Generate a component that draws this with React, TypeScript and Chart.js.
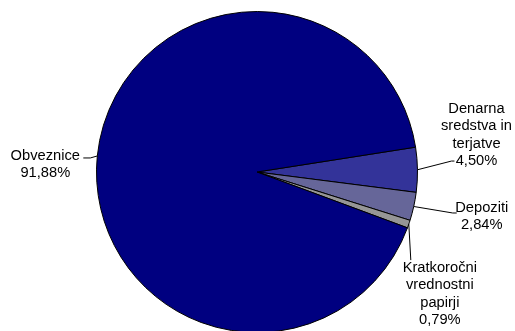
import React, { useEffect, useRef } from "react";
import { Chart, registerables } from "chart.js";

Chart.register(...registerables);

const categories = [
  "Denarna sredstva in terjatve",
  "Depoziti",
  "Kratkoročni vrednostni papirji",
  "Obveznice",
];
const values = [4.5, 2.84, 0.79, 91.88];
const valueLabels = ["4,50%", "2,84%", "0,79%", "91,88%"];
const labelLines = [
  ["Denarna", "sredstva in", "terjatve"],
  ["Depoziti"],
  ["Kratkoročni", "vrednostni", "papirji"],
  ["Obveznice"],
];
const colors = ["#333399", "#666699", "#969696", "#000080"];

// leader geometry: elbow offset from arc edge, tail length, text offset from tail end (first line)
const leaderCfg = [
  { ex: 34, ey: -8.7, tail: 3, tx: 22, ty: -52 },
  { ex: 39, ey: 6.5, tail: 4, tx: 25, ty: -5 },
  { ex: 2, ey: 36, tail: 0, tx: 29, ty: 8 },
  { ex: -7, ey: 2, tail: -7, tx: -38, ty: -2 },
];

const FONT = '14.7px "Liberation Sans", Arial, sans-serif';
const LINE_H = 17.3;

const labelPlugin = {
  id: "leaderLabels",
  afterDatasetsDraw(chart: any) {
    const ctx = chart.ctx;
    const meta = chart.getDatasetMeta(0);
    ctx.save();
    ctx.font = FONT;
    ctx.fillStyle = "#000";
    ctx.strokeStyle = "#000";
    ctx.lineWidth = 1;
    ctx.textAlign = "center";
    ctx.textBaseline = "middle";
    meta.data.forEach((arc: any, i: number) => {
      const { x, y, startAngle, endAngle, outerRadius } = arc.getProps(
        ["x", "y", "startAngle", "endAngle", "outerRadius"],
        true
      );
      const mid = (startAngle + endAngle) / 2;
      const px = x + outerRadius * Math.cos(mid);
      const py = y + outerRadius * Math.sin(mid);
      const c = leaderCfg[i];
      const elx = px + c.ex;
      const ely = py + c.ey;
      const enx = elx + c.tail;
      ctx.beginPath();
      ctx.moveTo(px, py);
      ctx.lineTo(elx, ely);
      ctx.lineTo(enx, ely);
      ctx.stroke();
      const lines = [...labelLines[i], valueLabels[i]];
      lines.forEach((t, k) => {
        ctx.fillText(t, enx + c.tx, ely + c.ty + k * LINE_H);
      });
    });
    ctx.restore();
  },
};

export default function App() {
  const ref = useRef<HTMLCanvasElement>(null);
  useEffect(() => {
    if (!ref.current) return;
    const chart = new Chart(ref.current, {
      type: "pie",
      data: {
        labels: categories,
        datasets: [
          {
            data: values,
            backgroundColor: colors,
            borderColor: "#000",
            borderWidth: 1,
          },
        ],
      },
      options: {
        responsive: false,
        animation: false,
        rotation: 81.1,
        layout: { padding: { top: 11, bottom: 12, left: 96, right: 97 } },
        plugins: {
          legend: { display: false },
          tooltip: { enabled: false },
        },
      },
      plugins: [labelPlugin],
    });
    return () => chart.destroy();
  }, []);
  return (
    <div
      style={{
        position: "fixed",
        left: 0,
        top: 0,
        width: 515,
        height: 331,
        overflow: "hidden",
        background: "#fff",
      }}
    >
      <canvas ref={ref} width={515} height={345} />
    </div>
  );
}
